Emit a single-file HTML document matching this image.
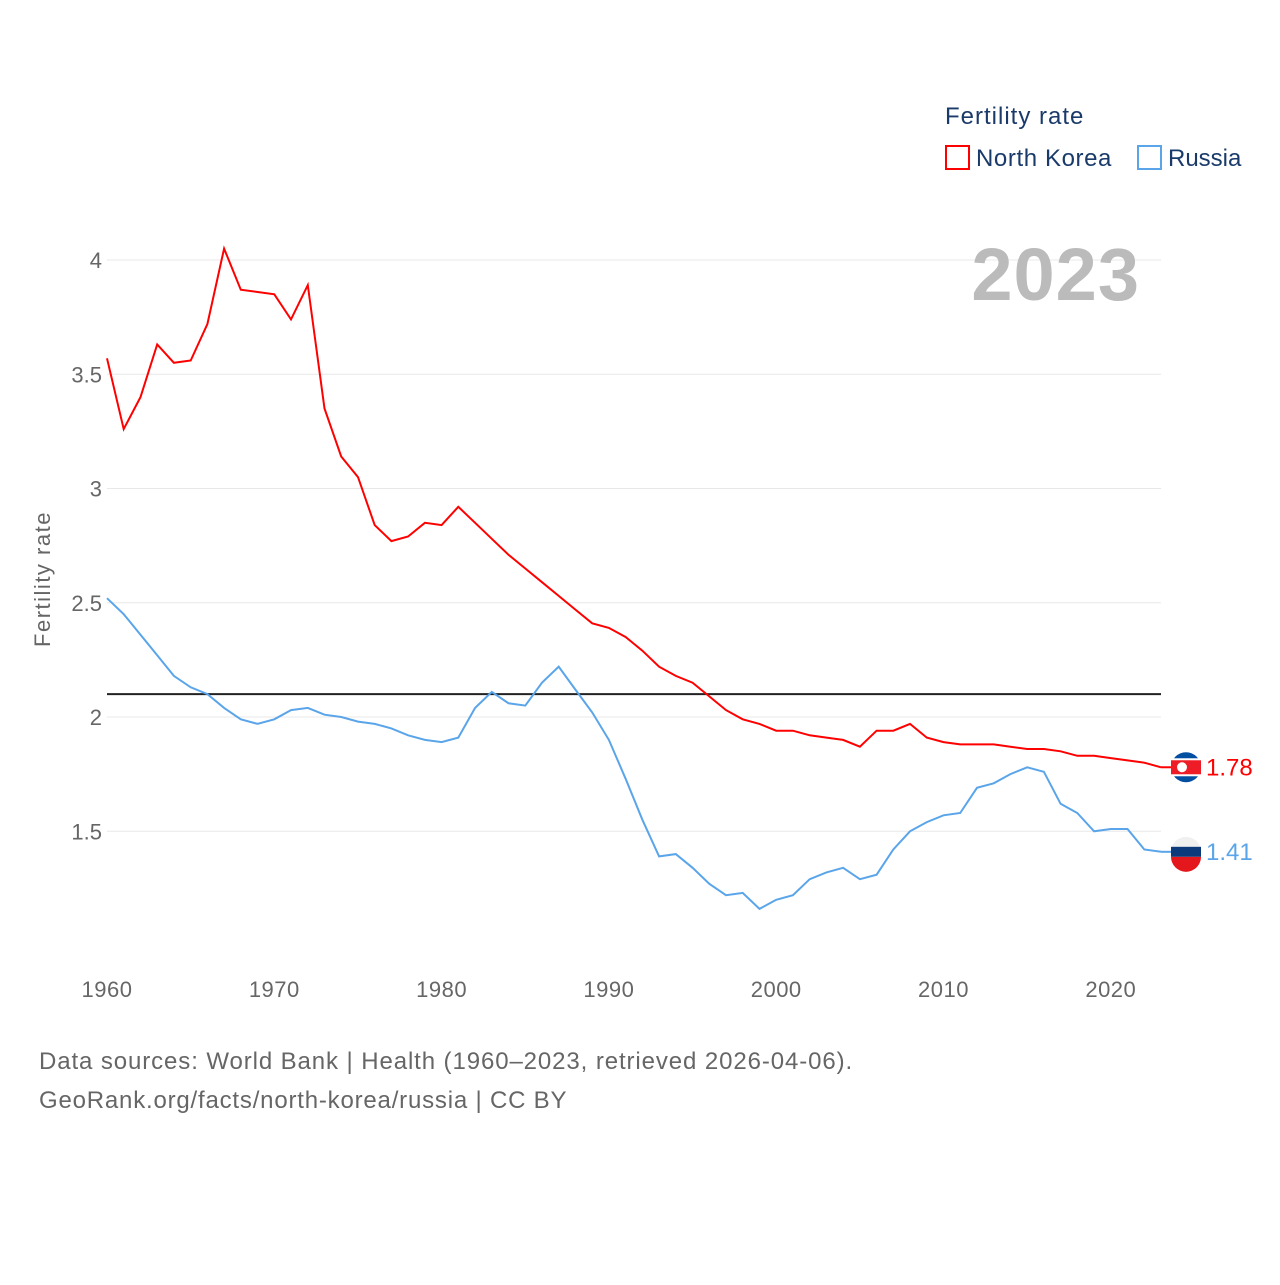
<!DOCTYPE html>
<html><head><meta charset="utf-8"><style>
body{margin:0;background:#fff;}
svg text{font-family:"Liberation Sans",sans-serif;}
</style></head><body>
<svg width="1280" height="1280" viewBox="0 0 1280 1280">
<g id="grid"></g>
<g id="yticks"></g>
<g id="xticks"></g>
<text x="50" y="579" transform="rotate(-90 50 579)" text-anchor="middle" font-size="22" letter-spacing="1.5" fill="#666">Fertility rate</text>
<line id="repl" stroke="#222" stroke-width="2"/>
<path id="nk" fill="none" stroke="#f00" stroke-width="2"/>
<path id="ru" fill="none" stroke="#5aa5ea" stroke-width="2"/>
<text x="1140" y="300" text-anchor="end" font-size="74" font-weight="bold" fill="#bbb" letter-spacing="1">2023</text>
<text x="945" y="124" font-size="24" letter-spacing="1" fill="#1a3a6a">Fertility rate</text>
<g>
<rect x="946" y="146" width="23" height="23" fill="none" stroke="#f00" stroke-width="2"/>
<text x="976" y="166" font-size="24" letter-spacing="0.6" fill="#1a3a6a">North Korea</text></g>
<g>
<rect x="1138" y="146" width="23" height="23" fill="none" stroke="#5aa5ea" stroke-width="2"/>
<text x="1168" y="166" font-size="24" fill="#1a3a6a">Russia</text></g>
<g id="ends"></g>
<text x="39" y="1069" font-size="24" letter-spacing="0.9" fill="#666">Data sources: World Bank | Health (1960–2023, retrieved 2026-04-06).</text>
<text x="39" y="1108" font-size="24" letter-spacing="0.8" fill="#666">GeoRank.org/facts/north-korea/russia | CC BY</text>
</svg>
<script>
const years=[];for(let y=1960;y<=2023;y++)years.push(y);
const northKorea=[3.57,3.26,3.40,3.63,3.55,3.56,3.72,4.05,3.87,3.86,3.85,3.74,3.89,3.35,3.14,3.05,2.84,2.77,2.79,2.85,2.84,2.92,2.85,2.78,2.71,2.65,2.59,2.53,2.47,2.41,2.39,2.35,2.29,2.22,2.18,2.15,2.09,2.03,1.99,1.97,1.94,1.94,1.92,1.91,1.90,1.87,1.94,1.94,1.97,1.91,1.89,1.88,1.88,1.88,1.87,1.86,1.86,1.85,1.83,1.83,1.82,1.81,1.80,1.78];
const russia=[2.52,2.45,2.36,2.27,2.18,2.13,2.10,2.04,1.99,1.97,1.99,2.03,2.04,2.01,2.00,1.98,1.97,1.95,1.92,1.90,1.89,1.91,2.04,2.11,2.06,2.05,2.15,2.22,2.12,2.02,1.90,1.73,1.55,1.39,1.40,1.34,1.27,1.22,1.23,1.16,1.20,1.22,1.29,1.32,1.34,1.29,1.31,1.42,1.50,1.54,1.57,1.58,1.69,1.71,1.75,1.78,1.76,1.62,1.58,1.50,1.51,1.51,1.42,1.41];
const yTicks=[1.5,2,2.5,3,3.5,4];
const xTicks=[1960,1970,1980,1990,2000,2010,2020];
const replacement=2.1;
const NS='http://www.w3.org/2000/svg';
const X=y=>107+(y-1960)*(1161-107)/63;
const Y=v=>717-(v-2)*228.5;
function mk(tag,attrs,parent,txt){const e=document.createElementNS(NS,tag);for(const k in attrs)e.setAttribute(k,attrs[k]);if(txt!==undefined)e.textContent=txt;parent.appendChild(e);return e;}
const grid=document.getElementById('grid'),yt=document.getElementById('yticks'),xt=document.getElementById('xticks');
yTicks.forEach(v=>{
 const l=mk('line',{x1:107,x2:1161,y1:Y(v),y2:Y(v),stroke:'#e8e8e8','stroke-width':1},grid);
 
 
 const t=mk('text',{x:102,y:Y(v)+8,'text-anchor':'end','font-size':22,fill:'#666'},yt,String(v));
 
 
});
xTicks.forEach(v=>{
 const t=mk('text',{x:X(v),y:997,'text-anchor':'middle','font-size':22,'letter-spacing':0.5,fill:'#666'},xt,String(v));
 
 
});
const r=document.getElementById('repl');
r.setAttribute('x1',107);r.setAttribute('x2',1161);r.setAttribute('y1',Y(replacement));r.setAttribute('y2',Y(replacement));
const path=a=>a.map((v,i)=>(i?'L':'M')+X(years[i]).toFixed(1)+' '+Y(v).toFixed(1)).join(' ');
document.getElementById('nk').setAttribute('d',path(northKorea));
document.getElementById('ru').setAttribute('d',path(russia));
const ends=document.getElementById('ends');
function endMark(arr,color,name,flag){
 const v=arr[arr.length-1],x=X(years[years.length-1]),y=Y(v);
 const g=mk('g',{},ends);
 
 
 mk('line',{x1:x,x2:x+12,y1:y,y2:y,stroke:color,'stroke-width':2},g);
 const cx=x+25;
 if(flag==='nk'){
  mk('circle',{cx:cx,cy:y,r:15,fill:'#024fa2'},g);
  mk('rect',{x:cx-15,y:y-9,width:30,height:18,fill:'#fff'},g);
  mk('rect',{x:cx-15,y:y-7,width:30,height:14,fill:'#ed1c27'},g);
  mk('circle',{cx:cx-4,cy:y,r:5,fill:'#fff'},g);
 }else{
  mk('circle',{cx:cx,cy:y,r:15,fill:'#f0f0f0'},g);
  mk('rect',{x:cx-15,y:y-5,width:30,height:10,fill:'#0c3a7a'},g);
  mk('path',{d:`M${cx-15} ${y+5} H${cx+15} A15 15 0 0 1 ${cx-15} ${y+5}Z`,fill:'#e4181c'},g);
 }
 mk('text',{x:cx+20,y:y+8,'font-size':24,fill:color},g,v.toFixed(2));
}
endMark(northKorea,'#f00','north-korea-end-label','nk');
endMark(russia,'#5aa5ea','russia-end-label','ru');
</script>
</body></html>
